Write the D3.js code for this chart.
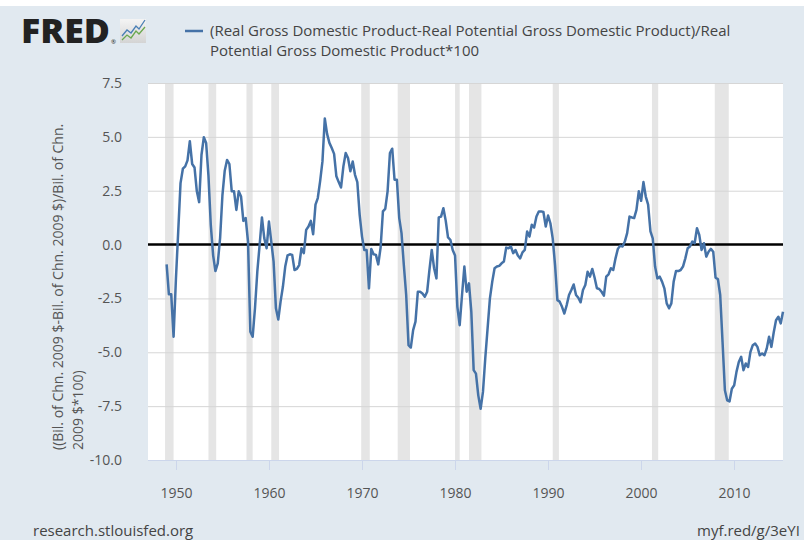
<!DOCTYPE html>
<html>
<head>
<meta charset="utf-8">
<script src="https://cdn.jsdelivr.net/npm/d3@7"></script>
<style>
  body { margin: 0; background: #e1e9f0; }
  svg { display: block; font-family: "Open Sans", sans-serif; }
</style>
</head>
<body>
<script>
// Output gap, quarterly, starting 1949 Q1 (one array per decade)
var gap1940s = [-0.92, -2.31, -2.31, -4.28];
var gap1950s = [
  -1.6, 0.6, 2.85, 3.52,   3.63, 3.91, 4.80, 3.74,   3.58, 2.47, 1.97, 4.17,
  4.98, 4.72, 3.2, 0.9,    -0.5, -1.23, -0.87, 0.3,  2.3, 3.43, 3.93, 3.74,
  2.47, 2.47, 1.61, 2.47,  2.23, 1.1, 1.23, 0.14,    -4.05, -4.28, -2.96, -1.26,
  0.0, 1.26, 0.3, -0.17
];
var gap1960s = [
  1.07, 0.14, -0.79, -2.96,  -3.48, -2.65, -1.96, -1.02,  -0.5, -0.45, -0.48, -1.18,
  -1.13, -0.95, -0.17, -0.40, 0.68, 0.84, 1.10, 0.48,     1.85, 2.16, 2.93, 3.86,
  5.85, 5.14, 4.72, 4.48,    4.21, 3.17, 2.90, 2.65,      3.63, 4.25, 4.02, 3.40,
  3.86, 3.24, 2.90, 1.38
];
var gap1970s = [
  0.37, -0.25, -0.25, -2.03,  -0.20, -0.45, -0.48, -0.92,  -0.14, 1.54, 1.66, 2.47,
  4.25, 4.45, 3.01, 3.01,     1.23, 0.53, -0.95, -2.34,    -4.67, -4.78, -3.97, -3.58,
  -2.19, -2.19, -2.27, -2.42, -2.19, -1.18, -0.25, -1.10,  -1.57, 1.26, 1.30, 1.69,
  1.10, 0.33, 0.22, -0.25
];
var gap1980s = [
  -0.51, -2.89, -3.74, -2.34, -1.02, -2.19, -1.80, -3.12,  -5.83, -5.99, -7.00, -7.62,
  -6.84, -5.29, -3.90, -2.50, -1.72, -1.10, -1.02, -0.99,  -0.87, -0.79, -0.14, -0.17,
  -0.09, -0.40, -0.25, -0.51, -0.64, -0.36, -0.25, 0.61,   0.37, 0.92, 0.79, 1.30,
  1.54, 1.54, 1.51, 0.84
];
var gap1990s = [
  1.35, 0.99, 0.29, -0.95,    -2.58, -2.65, -2.89, -3.20,  -2.81, -2.34, -2.11, -1.85,
  -2.34, -2.47, -2.68, -2.11, -1.88, -1.26, -1.49, -1.13,  -1.54, -2.03, -2.06, -2.19,
  -2.37, -1.49, -1.38, -1.10, -1.18, -0.64, -0.20, -0.05,  -0.09, 0.14, 0.53, 1.30,
  1.26, 1.23, 1.61, 2.47
];
var gap2000s = [
  2.03, 2.90, 2.23, 1.85,     0.61, 0.29, -1.02, -1.57,    -1.49, -1.72, -2.03, -2.73,
  -2.96, -2.73, -1.72, -1.23, -1.23, -1.18, -1.02, -0.64,  -0.17, -0.09, 0.14, 0.06,
  0.76, 0.45, -0.25, 0.06,    -0.56, -0.33, -0.20, -0.33,  -1.54, -1.60, -2.34, -4.52,
  -6.76, -7.23, -7.28, -6.69
];
var gap2010s = [
  -6.53, -5.91, -5.45, -5.21, -5.83, -5.52, -5.68, -4.98,  -4.67, -4.59, -4.75, -5.14,
  -5.06, -5.14, -4.83, -4.28, -4.75, -4.08, -3.51, -3.35,  -3.66, -3.12
];

// NBER recessions [start, end]
var recessions = [
  ["1948-11-01", "1949-10-01"], ["1953-07-01", "1954-05-01"], ["1957-08-01", "1958-04-01"],
  ["1960-04-01", "1961-02-01"], ["1969-12-01", "1970-11-01"], ["1973-11-01", "1975-03-01"],
  ["1980-01-01", "1980-07-01"], ["1981-07-01", "1982-11-01"], ["1990-07-01", "1991-03-01"],
  ["2001-03-01", "2001-11-01"], ["2007-12-01", "2009-06-01"]
];

var xTickYears = [1950, 1960, 1970, 1980, 1990, 2000, 2010];
var yTicks = [-10, -7.5, -5, -2.5, 0, 2.5, 5, 7.5];

var legendLines = ["(Real Gross Domestic Product-Real Potential Gross Domestic Product)/Real",
                   "Potential Gross Domestic Product*100"];
var yLabelLines = ["((Bil. of Chn. 2009 $-Bil. of Chn. 2009 $)/Bil. of Chn.", "2009 $*100)"];

var values = [].concat(gap1940s, gap1950s, gap1960s, gap1970s, gap1980s, gap1990s, gap2000s, gap2010s);
var data = values.map(function(v, i) {
  return {date: new Date(1949, i * 3, 1), value: v};
});

var width = 804, height = 540;
var plot = {left: 148, right: 783, top: 83, bottom: 460};

var svg = d3.select("body").append("svg")
    .attr("width", width)
    .attr("height", height);

svg.append("rect").attr("width", width).attr("height", height).attr("fill", "#e1e9f0");
svg.append("rect").attr("width", width).attr("height", 6).attr("fill", "#ffffff");

var x = d3.scaleTime()
    .domain([new Date(1947, 0, 1), data[data.length - 1].date])
    .range([plot.left, plot.right]);

var y = d3.scaleLinear()
    .domain([-10, 7.5])
    .range([plot.bottom, plot.top]);

// plot background
svg.append("rect")
    .attr("x", plot.left).attr("y", plot.top)
    .attr("width", plot.right - plot.left).attr("height", plot.bottom - plot.top)
    .attr("fill", "#ffffff");

// recession bars
svg.append("g").selectAll("rect")
    .data(recessions)
    .enter().append("rect")
    .attr("x", d => x(new Date(d[0])))
    .attr("width", d => x(new Date(d[1])) - x(new Date(d[0])))
    .attr("y", plot.top)
    .attr("height", plot.bottom - plot.top)
    .attr("fill", "#e5e5e5");

// grid lines
svg.append("g").selectAll("line")
    .data(yTicks.filter(d => d !== -10 && d !== 0))
    .enter().append("line")
    .attr("x1", plot.left).attr("x2", plot.right)
    .attr("y1", d => y(d) + 0.5).attr("y2", d => y(d) + 0.5)
    .attr("stroke", "#d6d6d6")
    .attr("stroke-width", 1);

// y tick labels (plain hyphen for minus, like the original)
svg.append("g").selectAll("text")
    .data(yTicks)
    .enter().append("text")
    .attr("x", 122)
    .attr("y", d => y(d) + 5)
    .attr("text-anchor", "end")
    .attr("font-size", 14)
    .attr("fill", "#555555")
    .text(d => d.toFixed(1));

// x axis
var xAxis = svg.append("g");
xAxis.append("line")
    .attr("x1", plot.left).attr("x2", plot.right)
    .attr("y1", plot.bottom + 0.5).attr("y2", plot.bottom + 0.5)
    .attr("stroke", "#ccd6eb");
var xt = xAxis.selectAll("g.tick")
    .data(xTickYears)
    .enter().append("g")
    .attr("class", "tick")
    .attr("transform", d => "translate(" + (Math.round(x(new Date(d, 0, 1))) + 0.5) + ",0)");
xt.append("line")
    .attr("y1", plot.bottom).attr("y2", plot.bottom + 10)
    .attr("stroke", "#ccd6eb");
xt.append("text")
    .attr("y", plot.bottom + 38)
    .attr("text-anchor", "middle")
    .attr("font-size", 14)
    .attr("fill", "#555555")
    .text(d => d);

// zero line
svg.append("line")
    .attr("x1", plot.left).attr("x2", plot.right)
    .attr("y1", y(0)).attr("y2", y(0))
    .attr("stroke", "#000000")
    .attr("stroke-width", 2.5);

// the series
var line = d3.line()
    .x(d => x(d.date))
    .y(d => y(d.value));

svg.append("path")
    .datum(data)
    .attr("d", line)
    .attr("fill", "none")
    .attr("stroke", "#4572a7")
    .attr("stroke-width", 2.5)
    .attr("stroke-linejoin", "round");

// y axis label
var yl = svg.append("text")
    .attr("font-size", 14)
    .attr("fill", "#555555")
    .attr("transform", "translate(63,450) rotate(-90)");
yl.selectAll("tspan")
    .data(yLabelLines)
    .enter().append("tspan")
    .attr("x", 0)
    .attr("y", (d, i) => i * 20)
    .text(d => d);

// legend
svg.append("line")
    .attr("x1", 185).attr("x2", 203)
    .attr("y1", 31).attr("y2", 31)
    .attr("stroke", "#4572a7")
    .attr("stroke-width", 2.5);
svg.append("g").selectAll("text")
    .data(legendLines)
    .enter().append("text")
    .attr("x", 210)
    .attr("y", (d, i) => 36 + i * 20)
    .attr("font-size", 15)
    .attr("fill", "#444444")
    .text(d => d);

// FRED logo
var logo = svg.append("g");
logo.append("text")
    .attr("x", 21).attr("y", 43)
    .attr("font-size", 34)
    .attr("font-weight", 800)
    .attr("textLength", 89)
    .attr("lengthAdjust", "spacingAndGlyphs")
    .attr("fill", "#222222")
    .text("FRED");
logo.append("text")
    .attr("x", 111).attr("y", 44)
    .attr("font-size", 6)
    .attr("fill", "#222222")
    .text("\u00ae");
var grad = svg.append("defs").append("linearGradient")
    .attr("id", "logoGrad").attr("x1", 0).attr("y1", 0).attr("x2", 0).attr("y2", 1);
grad.append("stop").attr("offset", "0%").attr("stop-color", "#f4f4f4");
grad.append("stop").attr("offset", "100%").attr("stop-color", "#d4d4d4");
logo.append("rect")
    .attr("x", 120).attr("y", 19).attr("width", 26).attr("height", 24)
    .attr("fill", "url(#logoGrad)");
logo.append("path")
    .attr("d", "M122,36 L127,30 L131,33 L136,26 L139,29 L145,20")
    .attr("fill", "none").attr("stroke", "#4a7fb5").attr("stroke-width", 1.3);
logo.append("path")
    .attr("d", "M122,40 L127,35 L131,38 L136,31 L139,34 L145,27")
    .attr("fill", "none").attr("stroke", "#6aa84f").attr("stroke-width", 1.3);

// footer
svg.append("text")
    .attr("x", 33).attr("y", 536)
    .attr("font-size", 15)
    .attr("fill", "#444444")
    .text("research.stlouisfed.org");
svg.append("text")
    .attr("x", 697).attr("y", 536)
    .attr("font-size", 15)
    .attr("fill", "#444444")
    .text("myf.red/g/3eYI");
</script>
</body>
</html>
